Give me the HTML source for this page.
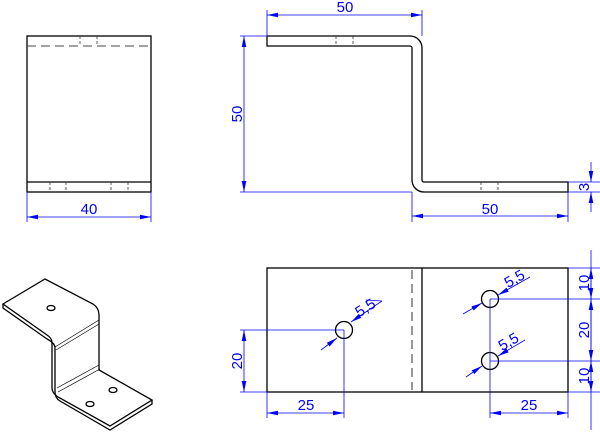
<!DOCTYPE html>
<html><head><style>body{margin:0;background:#fff}svg{display:block}</style></head><body>
<svg width="600" height="432" xmlns="http://www.w3.org/2000/svg" font-family="Liberation Sans, sans-serif">
<defs>
<marker id="a" markerWidth="11" markerHeight="6" refX="11" refY="3" orient="auto-start-reverse" markerUnits="userSpaceOnUse"><path d="M0,0.7 L11,3 L0,5.3Z" fill="#00f"/></marker>
</defs>
<g fill="none" stroke="#000" stroke-width="1.3">
<rect x="27" y="36" width="124" height="156"/>
<line x1="27" y1="182" x2="151" y2="182"/>
<path d="M267,36 H410 A12,12 0 0 1 422,48 V180 A2,2 0 0 0 424,182 H568 V192 H424 A12,12 0 0 1 412,180 V48 A2,2 0 0 0 410,46 H267 Z"/>
<rect x="267" y="268" width="301" height="124"/>
<line x1="422" y1="268" x2="422" y2="392"/>
<circle cx="344" cy="330" r="8.5"/>
<circle cx="490" cy="299" r="8.5"/>
<circle cx="490" cy="361" r="8.5"/>
<path d="M3,304 L45,279 L93,304 Q99,308 99,315 V370 L152,400 L110,426 L58,397 Q52,393 52,388 V343 Q52,338 47,335 Z"/>
<path d="M3,304 V308 L47,339 Q55,343 55,348 V392 Q55,398 60,401 L110,430 L152,404 V400"/>
<path d="M55,347 L99,320 M56,350 L99,324 M57,388 L99,365 M58,392 L100,369" stroke-width="0.7"/>
<ellipse cx="51" cy="308" rx="4" ry="2.5"/>
<ellipse cx="113" cy="390" rx="4" ry="2.5"/>
<ellipse cx="90" cy="404" rx="4" ry="2.5"/>
</g>
<g stroke="#444" stroke-width="1.1" fill="none">
<line x1="27" y1="46" x2="151" y2="46" stroke-dasharray="9,5"/>
<line x1="412" y1="270" x2="412" y2="390" stroke-dasharray="9,5"/>
<g stroke-dasharray="3,2" stroke-width="0.8" stroke="#333">
<line x1="80" y1="36" x2="80" y2="46"/><line x1="97" y1="36" x2="97" y2="46"/>
<line x1="50" y1="182" x2="50" y2="192"/><line x1="66" y1="182" x2="66" y2="192"/>
<line x1="111" y1="182" x2="111" y2="192"/><line x1="128" y1="182" x2="128" y2="192"/>
<line x1="336" y1="36" x2="336" y2="46"/><line x1="353" y1="36" x2="353" y2="46"/>
<line x1="481" y1="182" x2="481" y2="192"/><line x1="498" y1="182" x2="498" y2="192"/>
</g></g>
<g stroke="#00f" stroke-width="0.8" fill="none">
<line x1="27" y1="192" x2="27" y2="222"/><line x1="151" y1="192" x2="151" y2="222"/>
<line x1="27" y1="217" x2="151" y2="217" marker-start="url(#a)" marker-end="url(#a)"/>
<line x1="267" y1="36" x2="267" y2="10"/><line x1="422" y1="36" x2="422" y2="10"/>
<line x1="267" y1="15" x2="422" y2="15" marker-start="url(#a)" marker-end="url(#a)"/>
<line x1="240" y1="36" x2="267" y2="36"/><line x1="240" y1="192" x2="412" y2="192"/>
<line x1="244" y1="36" x2="244" y2="192" marker-start="url(#a)" marker-end="url(#a)"/>
<line x1="412" y1="192" x2="412" y2="222"/><line x1="568" y1="192" x2="568" y2="222"/>
<line x1="412" y1="216" x2="568" y2="216" marker-start="url(#a)" marker-end="url(#a)"/>
<line x1="568" y1="182" x2="600" y2="182"/><line x1="568" y1="192" x2="600" y2="192"/>
<line x1="591" y1="162" x2="591" y2="182" marker-end="url(#a)"/>
<line x1="591" y1="212" x2="591" y2="192" marker-end="url(#a)"/>
<line x1="240" y1="330" x2="344" y2="330"/><line x1="240" y1="392" x2="267" y2="392"/>
<line x1="244" y1="330" x2="244" y2="392" marker-start="url(#a)" marker-end="url(#a)"/>
<line x1="267" y1="392" x2="267" y2="418"/><line x1="344" y1="330" x2="344" y2="418"/>
<line x1="267" y1="413" x2="344" y2="413" marker-start="url(#a)" marker-end="url(#a)"/>
<line x1="490" y1="299" x2="490" y2="418"/><line x1="568" y1="392" x2="568" y2="418"/>
<line x1="490" y1="413" x2="568" y2="413" marker-start="url(#a)" marker-end="url(#a)"/>
<line x1="568" y1="268" x2="600" y2="268"/><line x1="568" y1="392" x2="600" y2="392"/>
<line x1="490" y1="299" x2="600" y2="299"/><line x1="490" y1="361" x2="600" y2="361"/>
<line x1="591" y1="250" x2="591" y2="430"/>
<line x1="591" y1="283" x2="591" y2="268" marker-end="url(#a)"/>
<line x1="591" y1="283" x2="591" y2="299" marker-end="url(#a)"/>
<line x1="591" y1="330" x2="591" y2="299" marker-end="url(#a)"/>
<line x1="591" y1="330" x2="591" y2="361" marker-end="url(#a)"/>
<line x1="591" y1="376" x2="591" y2="361" marker-end="url(#a)"/>
<line x1="591" y1="376" x2="591" y2="392" marker-end="url(#a)"/>
<line x1="321" y1="350" x2="337" y2="338" marker-end="url(#a)"/>
<line x1="382" y1="301" x2="351" y2="322" marker-end="url(#a)"/>
<line x1="366" y1="300" x2="382" y2="301"/>
<line x1="463" y1="314" x2="482" y2="303" marker-end="url(#a)"/>
<line x1="530" y1="277" x2="498" y2="295" marker-end="url(#a)"/>
<line x1="466" y1="377" x2="482" y2="366" marker-end="url(#a)"/>
<line x1="525" y1="340" x2="498" y2="356" marker-end="url(#a)"/>
</g>
<g fill="#00f" font-size="15" text-anchor="middle">
<text x="89" y="214">40</text>
<text x="345" y="12">50</text>
<text x="490" y="214">50</text>
<text transform="translate(242,114) rotate(-90)">50</text>
<text transform="translate(589,187) rotate(-90)">3</text>
<text transform="translate(242,361) rotate(-90)">20</text>
<text x="306" y="410">25</text>
<text x="529" y="410">25</text>
<text transform="translate(589,283) rotate(-90)">10</text>
<text transform="translate(589,330) rotate(-90)">20</text>
<text transform="translate(589,376) rotate(-90)">10</text>
<text transform="translate(368,312) rotate(-33)">5,5</text>
<text transform="translate(517,283) rotate(-30)">5,5</text>
<text transform="translate(511,346) rotate(-30)">5,5</text>
</g>
</svg>
</body></html>
